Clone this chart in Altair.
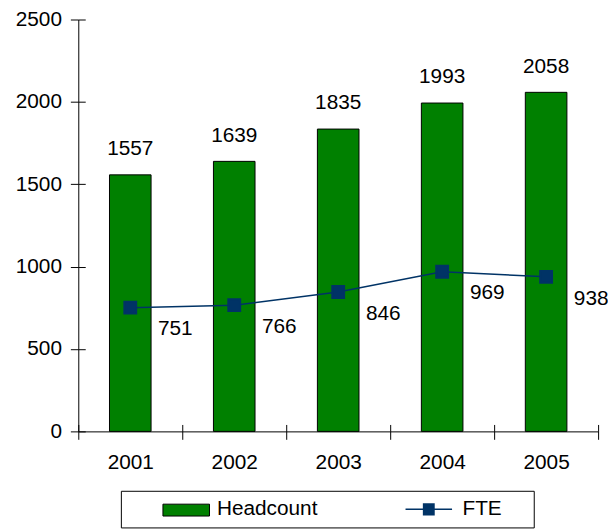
import altair as alt
import pandas as pd

years = ["2001", "2002", "2003", "2004", "2005"]
headcount = [1557, 1639, 1835, 1993, 2058]
fte = [751, 766, 846, 969, 938]
series_names = ["Headcount", "FTE"]
bar_color = "#008000"
line_color = "#003366"
y_ticks = [0, 500, 1000, 1500, 2000, 2500]

FONT = "Liberation Sans"
FS = 21

df_head = pd.DataFrame({"year": years, "value": headcount, "series": "Headcount"})
df_fte = pd.DataFrame({"year": years, "value": fte, "series": "FTE"})

xscale = alt.Scale(paddingInner=0, paddingOuter=0)
yscale = alt.Scale(domain=[0, 2500], nice=False)

# legend symbol paths: nominal symbol is 12 px (unit = 6 px), centred 6 px into the entry
U = 6.0
def ux(px):
    return (px - U) / U

stripes = "".join(
    "M%.4f,%.4fH%.4f" % (ux(23.5 - 6), (-5.5 + k) / U, ux(23.5 + 6)) for k in range(12)
)
fte_symbol = ("M-1,0H%.4f" % ux(47)) + stripes + ("M%.4f,0h0.0001" % ux(118))
head_symbol = "M-1,-1H%.4fV1H-1Z" % ux(47)

legend_lines = alt.Legend(
    title=None, orient="none", legendX=43, legendY=476, direction="horizontal",
    labelFont=FONT, labelFontSize=FS, labelColor="black",
    strokeColor="black", padding=8, columnPadding=57, labelOffset=41, symbolOffset=27,
    symbolType=fte_symbol, symbolSize=144, symbolStrokeWidth=1.5,
    symbolFillColor="transparent",
)
legend_bars = alt.Legend(
    title=None, orient="none", legendX=85, legendY=489, direction="horizontal",
    labelExpr="''", padding=0,
    symbolType=head_symbol, symbolSize=144, symbolStrokeWidth=1,
    symbolStrokeColor="black", symbolOpacity=1,
)

x_axis = alt.Axis(orient="bottom", title=None, tickBand="extent", tickSize=8, tickColor="black",
                  domainColor="black", labelFont=FONT, labelFontSize=FS, labelColor="black",
                  labelPadding=12, labelAngle=0,
                  grid=True, gridColor="black", gridWidth=1, gridDash=[7, 409],
                  gridDashOffset=7, gridOpacity=1)
y_axis = alt.Axis(orient="left", title=None, values=y_ticks, format="d", tickSize=8,
                  tickColor="black", domainColor="black", labelFont=FONT, labelFontSize=FS,
                  labelColor="black", labelPadding=9,
                  grid=True, gridColor="black", gridWidth=1, gridDash=[7, 2000], gridOpacity=1)

bars = alt.Chart(df_head).mark_bar(
    stroke="black", strokeWidth=1, opacity=1, width=alt.RelativeBandSize(0.4)
).encode(
    x=alt.X("year:N", scale=xscale, axis=x_axis),
    y=alt.Y("value:Q", scale=yscale, axis=y_axis),
    fill=alt.Fill("series:N", scale=alt.Scale(domain=["Headcount"], range=[bar_color]),
                  legend=legend_bars),
)

line = alt.Chart(df_fte).mark_line(
    strokeWidth=1.5,
    point=alt.OverlayMarkDef(shape="square", size=144, filled=True, fill=line_color, opacity=1),
).encode(
    x=alt.X("year:N", scale=xscale),
    y=alt.Y("value:Q", scale=yscale),
    stroke=alt.Stroke("series:N", scale=alt.Scale(domain=series_names,
                                                  range=["transparent", line_color]),
                      legend=legend_lines),
)

bar_text = alt.Chart(df_head).mark_text(
    font=FONT, fontSize=FS, color="black", align="center", baseline="alphabetic", dy=-20
).encode(
    x=alt.X("year:N", scale=xscale),
    y=alt.Y("value:Q", scale=yscale),
    text="value:Q",
)

line_text = alt.Chart(df_fte).mark_text(
    font=FONT, fontSize=FS, color="black", align="left", baseline="alphabetic", dx=28, dy=28
).encode(
    x=alt.X("year:N", scale=xscale),
    y=alt.Y("value:Q", scale=yscale),
    text="value:Q",
)

chart = alt.layer(bars, line, bar_text, line_text).resolve_legend(
    fill="independent", stroke="independent"
).properties(
    width=525, height=416, autosize="none",
    padding={"left": 71, "top": 9, "right": 10, "bottom": 100},
    background="white",
).configure_view(stroke=None)

chart.save("out.html", embed_options={"renderer": "svg", "actions": False})
